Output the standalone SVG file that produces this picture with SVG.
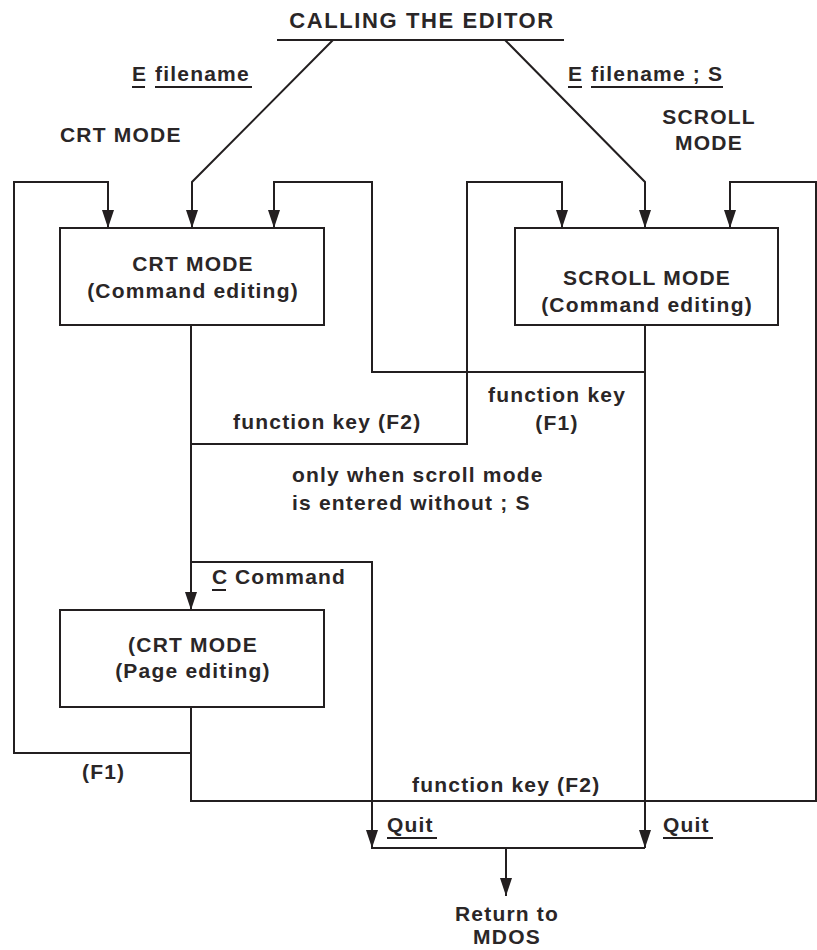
<svg xmlns="http://www.w3.org/2000/svg" width="817" height="950" viewBox="0 0 817 950">
<defs>
<marker id="arr" markerUnits="userSpaceOnUse" markerWidth="18" markerHeight="12" viewBox="0 0 18 12" refX="18" refY="6" orient="auto">
<path d="M0,0 L18,6 L0,12 z" fill="#231f20"/>
</marker>
<style>
.t{font-family:"Liberation Sans",Arial,sans-serif;font-weight:bold;font-size:21px;letter-spacing:1.2px;fill:#2a2627}
.c{text-anchor:middle}
.b{fill:#fff;stroke:#231f20;stroke-width:2}
.l{fill:none;stroke:#231f20;stroke-width:2}
.a{fill:none;stroke:#231f20;stroke-width:2;marker-end:url(#arr)}
.u{stroke:#231f20;stroke-width:2}
</style>
</defs>
<rect width="817" height="950" fill="#fff"/>
<g id="connectors">
<path class="l" d="M277,40 H564"/>
<path class="a" d="M333,40 L192,182 V228"/>
<path class="a" d="M505,40 L645,182 V228"/>
<path class="a" d="M191,325 V610"/>
<path class="a" d="M191,444 H467 V182 H562 V228"/>
<path class="a" d="M645,372 H372 V182 H274 V228"/>
<path class="a" d="M191,562 H372 V848"/>
<path class="a" d="M645,325 V848"/>
<path class="a" d="M191,707 V801 H816 V182 H730 V228"/>
<path class="a" d="M191,753 H14 V182 H108 V228"/>
<path class="l" d="M371,848 H645"/>
<path class="a" d="M506,848 V896"/>
</g>
<g id="title">
<text class="t c" x="422" y="28" style="font-size:22px;letter-spacing:1.6px">CALLING THE EDITOR</text>
</g>
<g id="crt-cmd">
<rect class="b" x="60" y="228" width="264" height="97"/>
<text class="t c" x="193" y="271">CRT MODE</text>
<text class="t c" x="193" y="298">(Command editing)</text>
</g>
<g id="scroll-cmd">
<rect class="b" x="515" y="228" width="263" height="97"/>
<text class="t c" x="647" y="285">SCROLL MODE</text>
<text class="t c" x="647" y="312">(Command editing)</text>
</g>
<g id="crt-page">
<rect class="b" x="60" y="610" width="264" height="97"/>
<text class="t c" x="193" y="652">(CRT MODE</text>
<text class="t c" x="193" y="678">(Page editing)</text>
</g>
<g id="mdos">
<text class="t c" x="507" y="921">Return to</text>
<text class="t c" x="507" y="944">MDOS</text>
</g>
<g id="labels">
<text class="t" x="132" y="81">E</text>
<line class="u" x1="132" y1="87" x2="145" y2="87"/>
<text class="t" x="155" y="81">filename</text>
<line class="u" x1="155" y1="87" x2="252" y2="87"/>
<text class="t" x="60" y="142">CRT MODE</text>
<text class="t" x="568" y="81">E</text>
<line class="u" x1="568" y1="87" x2="582" y2="87"/>
<text class="t" x="591" y="81">filename ; S</text>
<line class="u" x1="591" y1="87" x2="723" y2="87"/>
<text class="t c" x="709" y="124">SCROLL</text>
<text class="t c" x="709" y="150">MODE</text>
<text class="t" x="233" y="429">function key (F2)</text>
<text class="t c" x="557" y="402">function key</text>
<text class="t c" x="557" y="430">(F1)</text>
<text class="t" x="292" y="482">only when scroll mode</text>
<text class="t" x="292" y="510">is entered  without ; S</text>
<text class="t" x="212" y="584">C</text>
<line class="u" x1="212" y1="590" x2="226" y2="590"/>
<text class="t" x="235" y="584">Command</text>
<text class="t" x="82" y="779">(F1)</text>
<text class="t" x="412" y="792">function key (F2)</text>
<text class="t" x="387" y="832">Quit</text>
<line class="u" x1="387" y1="838" x2="437" y2="838"/>
<text class="t" x="663" y="832">Quit</text>
<line class="u" x1="663" y1="838" x2="713" y2="838"/>
</g>
</svg>
